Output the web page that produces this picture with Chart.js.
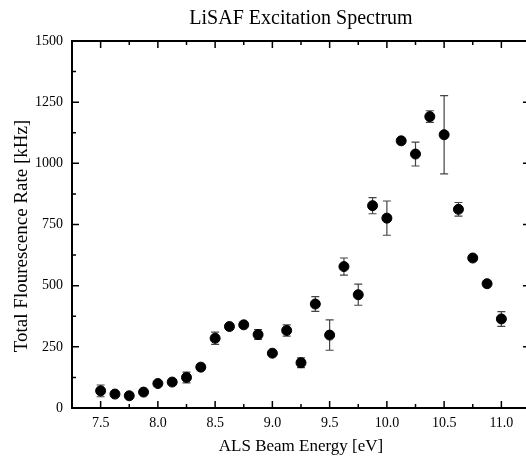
<!DOCTYPE html>
<html>
<head>
<meta charset="utf-8">
<script src="https://cdn.jsdelivr.net/npm/chart.js@4/dist/chart.umd.min.js"></script>
<style>
  html, body { margin: 0; padding: 0; background: #fff; overflow: hidden; }
  #wrap { width: 537px; height: 464px; }
</style>
</head>
<body>
<div id="wrap"><canvas id="excitationChart" width="537" height="464"></canvas></div>
<script>
// photon energy of the ALS beam [eV]
var energy = [7.5, 7.625, 7.75, 7.875, 8.0, 8.125, 8.25, 8.375, 8.5, 8.625, 8.75, 8.875, 9.0, 9.125, 9.25,
              9.375, 9.5, 9.625, 9.75, 9.875, 10.0, 10.125, 10.25, 10.375, 10.5, 10.625, 10.75, 10.875, 11.0];
// total fluorescence rate [kHz]
var rate = [70, 57, 50, 65, 100, 106, 125, 167, 285, 333, 340, 300, 224, 317, 185,
            425, 298, 578, 463, 827, 776, 1092, 1038, 1191, 1117, 812, 613, 508, 364];
// error (+/-) [kHz]
var rateErr = [24, 0, 0, 0, 0, 0, 22, 0, 25, 0, 0, 20, 0, 23, 20,
               30, 62, 35, 43, 33, 70, 0, 49, 24, 160, 28, 0, 0, 30];

var chartTitle = 'LiSAF Excitation Spectrum';
var yTitle = 'Total Flourescence Rate [kHz]';

var serif = "'Liberation Serif', 'Times New Roman', serif";

var points = energy.map(function (e, i) {
    return { x: e, y: rate[i], err: rateErr[i] };
});

var errorBars = {
    id: 'errorBars',
    beforeDatasetsDraw: function (chart) {
        var ctx = chart.ctx, xs = chart.scales.x, ys = chart.scales.y;
        ctx.save();
        ctx.strokeStyle = '#444';
        ctx.lineWidth = 1.2;
        points.forEach(function (p) {
            if (!p.err) return;
            var px = xs.getPixelForValue(p.x);
            var top = ys.getPixelForValue(p.y + p.err);
            var bot = ys.getPixelForValue(p.y - p.err);
            ctx.beginPath();
            ctx.moveTo(px, top); ctx.lineTo(px, bot);
            ctx.moveTo(px - 4, top); ctx.lineTo(px + 4, top);
            ctx.moveTo(px - 4, bot); ctx.lineTo(px + 4, bot);
            ctx.stroke();
        });
        ctx.restore();
    }
};

// inward tick marks on all four sides, top frame, title and y title
var frame = {
    id: 'frame',
    afterDraw: function (chart) {
        var ctx = chart.ctx, a = chart.chartArea, xs = chart.scales.x, ys = chart.scales.y;
        ctx.save();
        ctx.strokeStyle = '#000';
        ctx.lineWidth = 1.5;
        ctx.beginPath();
        xs.ticks.forEach(function (t) {
            var px = xs.getPixelForValue(t.value);
            if (px <= a.left + 1 || px >= a.right - 1) return;
            var len = t.label ? 7 : 4;
            ctx.moveTo(px, a.bottom); ctx.lineTo(px, a.bottom - len);
            ctx.moveTo(px, a.top); ctx.lineTo(px, a.top + len);
        });
        ys.ticks.forEach(function (t) {
            var py = ys.getPixelForValue(t.value);
            if (py <= a.top + 1 || py >= a.bottom - 1) return;
            var len = t.label ? 7 : 4;
            ctx.moveTo(a.left, py); ctx.lineTo(a.left + len, py);
            ctx.moveTo(a.right, py); ctx.lineTo(a.right - len, py);
        });
        ctx.stroke();
        ctx.lineWidth = 2;
        ctx.beginPath();
        ctx.moveTo(a.left - 1, a.top); ctx.lineTo(a.right, a.top);
        ctx.stroke();

        ctx.fillStyle = '#000';
        ctx.font = '20px ' + serif;
        ctx.textAlign = 'center';
        ctx.textBaseline = 'alphabetic';
        ctx.fillText(chartTitle, (a.left + a.right) / 2, 24);

        ctx.font = '19px ' + serif;
        ctx.translate(27, 236);
        ctx.rotate(-Math.PI / 2);
        ctx.fillText(yTitle, 0, 0);
        ctx.restore();
    }
};

var ctx = document.getElementById('excitationChart').getContext('2d');
var myChart = new Chart(ctx, {
    type: 'scatter',
    data: {
        datasets: [{
            label: 'LiSAF',
            data: points,
            backgroundColor: '#000',
            borderColor: '#000',
            pointRadius: 5,
            pointHoverRadius: 5
        }]
    },
    options: {
        responsive: false,
        animation: false,
        layout: { padding: { top: 41, right: 1, left: 0, bottom: 0 } },
        plugins: {
            legend: { display: false },
            tooltip: { enabled: false }
        },
        scales: {
            x: {
                type: 'linear',
                min: 7.25,
                max: 11.25,
                grid: { display: false, drawTicks: false },
                border: { display: true, color: '#000', width: 2 },
                afterFit: function (s) { s.height = 56; },
                ticks: {
                    stepSize: 0.25,
                    autoSkip: false,
                    maxRotation: 0,
                    padding: 7,
                    color: '#000',
                    font: { family: serif, size: 14 },
                    callback: function (v) {
                        return Math.abs(v * 2 - Math.round(v * 2)) < 1e-6 ? v.toFixed(1) : '';
                    }
                },
                title: {
                    display: true,
                    text: 'ALS Beam Energy [eV]',
                    color: '#000',
                    font: { family: serif, size: 17 },
                    padding: { top: 0, bottom: 7 }
                }
            },
            y: {
                min: 0,
                max: 1500,
                grid: { display: false, drawTicks: false },
                border: { display: true, color: '#000', width: 2 },
                afterFit: function (s) { s.width = 72; },
                ticks: {
                    stepSize: 125,
                    autoSkip: false,
                    padding: 9,
                    color: '#000',
                    font: { family: serif, size: 14 },
                    callback: function (v) { return v % 250 === 0 ? String(v) : ''; }
                }
            }
        }
    },
    plugins: [errorBars, frame]
});
</script>
</body>
</html>
